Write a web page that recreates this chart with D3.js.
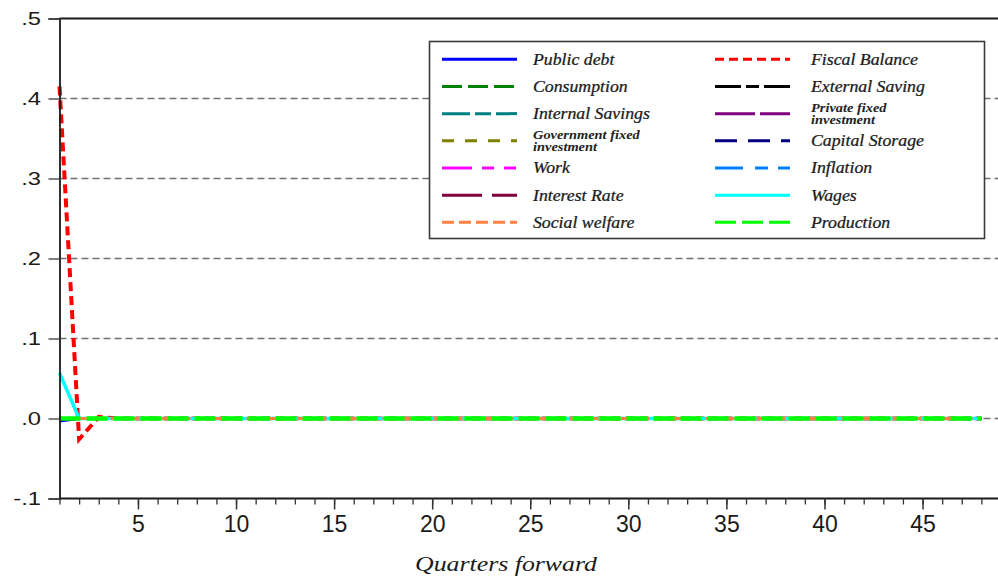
<!DOCTYPE html>
<html>
<head>
<meta charset="utf-8">
<script src="https://cdn.jsdelivr.net/npm/d3@7"></script>
<style>
  html, body { margin: 0; padding: 0; background: #ffffff; }
  svg { display: block; }
</style>
</head>
<body>
<svg id="chart" width="998" height="580"></svg>
<script>
// ---- data: impulse responses over 48 quarters ----
const quarters = [1,2,3,4,5,6,7,8,9,10,11,12,13,14,15,16,17,18,19,20,21,22,23,24,
                  25,26,27,28,29,30,31,32,33,34,35,36,37,38,39,40,41,42,43,44,45,46,47,48];

const publicDebt      = [-0.003,0,0,0,0,0,0,0,0,0,0,0,0,0,0,0,0,0,0,0,0,0,0,0,0,0,0,0,0,0,0,0,0,0,0,0,0,0,0,0,0,0,0,0,0,0,0,0];
const fiscalBalance   = [0.415,-0.026,0.002,0,0,0,0,0,0,0,0,0,0,0,0,0,0,0,0,0,0,0,0,0,0,0,0,0,0,0,0,0,0,0,0,0,0,0,0,0,0,0,0,0,0,0,0,0];
const consumption     = [0,0,0,0,0,0,0,0,0,0,0,0,0,0,0,0,0,0,0,0,0,0,0,0,0,0,0,0,0,0,0,0,0,0,0,0,0,0,0,0,0,0,0,0,0,0,0,0];
const externalSaving  = [0,0,0,0,0,0,0,0,0,0,0,0,0,0,0,0,0,0,0,0,0,0,0,0,0,0,0,0,0,0,0,0,0,0,0,0,0,0,0,0,0,0,0,0,0,0,0,0];
const internalSavings = [0,0,0,0,0,0,0,0,0,0,0,0,0,0,0,0,0,0,0,0,0,0,0,0,0,0,0,0,0,0,0,0,0,0,0,0,0,0,0,0,0,0,0,0,0,0,0,0];
const privateFixedInv = [0,0,0,0,0,0,0,0,0,0,0,0,0,0,0,0,0,0,0,0,0,0,0,0,0,0,0,0,0,0,0,0,0,0,0,0,0,0,0,0,0,0,0,0,0,0,0,0];
const govFixedInv     = [0,0,0,0,0,0,0,0,0,0,0,0,0,0,0,0,0,0,0,0,0,0,0,0,0,0,0,0,0,0,0,0,0,0,0,0,0,0,0,0,0,0,0,0,0,0,0,0];
const capitalStorage  = [0,0,0,0,0,0,0,0,0,0,0,0,0,0,0,0,0,0,0,0,0,0,0,0,0,0,0,0,0,0,0,0,0,0,0,0,0,0,0,0,0,0,0,0,0,0,0,0];
const work            = [0,0,0,0,0,0,0,0,0,0,0,0,0,0,0,0,0,0,0,0,0,0,0,0,0,0,0,0,0,0,0,0,0,0,0,0,0,0,0,0,0,0,0,0,0,0,0,0];
const inflation       = [0,0,0,0,0,0,0,0,0,0,0,0,0,0,0,0,0,0,0,0,0,0,0,0,0,0,0,0,0,0,0,0,0,0,0,0,0,0,0,0,0,0,0,0,0,0,0,0];
const interestRate    = [0,0,0,0,0,0,0,0,0,0,0,0,0,0,0,0,0,0,0,0,0,0,0,0,0,0,0,0,0,0,0,0,0,0,0,0,0,0,0,0,0,0,0,0,0,0,0,0];
const wages           = [0.057,0,0,0,0,0,0,0,0,0,0,0,0,0,0,0,0,0,0,0,0,0,0,0,0,0,0,0,0,0,0,0,0,0,0,0,0,0,0,0,0,0,0,0,0,0,0,0];
const socialWelfare   = [0,0,0,0,0,0,0,0,0,0,0,0,0,0,0,0,0,0,0,0,0,0,0,0,0,0,0,0,0,0,0,0,0,0,0,0,0,0,0,0,0,0,0,0,0,0,0,0];
const production      = [0,0,0,0,0,0,0,0,0,0,0,0,0,0,0,0,0,0,0,0,0,0,0,0,0,0,0,0,0,0,0,0,0,0,0,0,0,0,0,0,0,0,0,0,0,0,0,0];

// legend order, row by row (left column, right column)
const seriesNames = [
  "Public debt", "Fiscal Balance",
  "Consumption", "External Saving",
  "Internal Savings", "Private fixed\ninvestment",
  "Government fixed\ninvestment", "Capital Storage",
  "Work", "Inflation",
  "Interest Rate", "Wages",
  "Social welfare", "Production"
];
const seriesValues = [
  publicDebt, fiscalBalance,
  consumption, externalSaving,
  internalSavings, privateFixedInv,
  govFixedInv, capitalStorage,
  work, inflation,
  interestRate, wages,
  socialWelfare, production
];

const yTickValues = [0.5, 0.4, 0.3, 0.2, 0.1, 0.0, -0.1];
const yTickLabels = [".5", ".4", ".3", ".2", ".1", ".0", "-.1"];
const gridValues  = [0.4, 0.3, 0.2, 0.1, 0.0];
const xTickValues = [5, 10, 15, 20, 25, 30, 35, 40, 45];
const xAxisTitle  = "Quarters forward";

// ---- line styles, same order as the series ----
const seriesStyles = [
  { color: "#0000ff", dash: null,                 width: 3 },
  { color: "#ff0000", dash: "9,5",                width: 4 },
  { color: "#008000", dash: "20,6",               width: 3 },
  { color: "#000000", dash: "26,5,13,5",          width: 3 },
  { color: "#008080", dash: "28,5,16,5",          width: 3 },
  { color: "#800080", dash: "40,5",               width: 3 },
  { color: "#808000", dash: "12,11",              width: 3 },
  { color: "#000080", dash: "22,11",              width: 3 },
  { color: "#ff00ff", dash: "30,10,12,10,12,10",  width: 3 },
  { color: "#0080ff", dash: "28,12,13,10,12,10",  width: 3 },
  { color: "#800040", dash: "40,10,25,10",        width: 3 },
  { color: "#00ffff", dash: null,                 width: 3.5 },
  { color: "#ff8040", dash: "12,5",               width: 3 },
  { color: "#00ff00", dash: "21,6",               width: 4.5 }
];

// ---- layout ----
const svg = d3.select("#chart");
const plot = { left: 59.5, top: 18.5, bottom: 498.5, right: 1001 };

const x = d3.scaleLinear().domain([1, 49]).range([plot.left, plot.right]);
const y = d3.scaleLinear().domain([-0.1, 0.5]).range([plot.bottom, plot.top]);

// dashed horizontal grid
svg.append("g")
  .selectAll("line")
  .data(gridValues)
  .join("line")
    .attr("x1", plot.left).attr("x2", 998)
    .attr("y1", d => y(d)).attr("y2", d => y(d))
    .attr("stroke", "#707070").attr("stroke-width", 1.6)
    .attr("stroke-dasharray", "7,4");

// series lines
const line = d3.line()
  .x((d, i) => x(quarters[i]))
  .y(d => y(d));

svg.append("g")
  .selectAll("path")
  .data(seriesValues)
  .join("path")
    .attr("d", d => line(d))
    .attr("fill", "none")
    .attr("stroke", (d, i) => seriesStyles[i].color)
    .attr("stroke-width", (d, i) => seriesStyles[i].width)
    .attr("stroke-dasharray", (d, i) => seriesStyles[i].dash)
    .attr("stroke-linejoin", "miter");

// frame: top border
svg.append("line")
  .attr("x1", plot.left).attr("x2", 998)
  .attr("y1", plot.top).attr("y2", plot.top)
  .attr("stroke", "#1a1a1a").attr("stroke-width", 1.8);

// y axis
const yAxis = d3.axisLeft(y)
  .tickValues(yTickValues)
  .tickSize(11)
  .tickFormat("");
const gy = svg.append("g")
  .attr("transform", `translate(${plot.left},0)`)
  .call(yAxis);
gy.select(".domain").attr("stroke", "#1a1a1a").attr("stroke-width", 1.8);
gy.selectAll(".tick line").attr("stroke", "#555").attr("stroke-width", 1.5);

svg.append("g")
  .selectAll("text")
  .data(yTickValues)
  .join("text")
    .attr("transform", d => `translate(41,${y(d) + 6.8}) scale(1.25,1)`)
    .attr("text-anchor", "end")
    .attr("font-family", "'Liberation Sans', Arial, sans-serif")
    .attr("font-size", 19)
    .attr("fill", "#1a1a1a")
    .text((d, i) => yTickLabels[i]);

// x axis: minor ticks every quarter, major every five
const xAxisMinor = d3.axisBottom(x)
  .tickValues(quarters)
  .tickSize(6)
  .tickFormat("");
const gxMinor = svg.append("g")
  .attr("transform", `translate(0,${plot.bottom})`)
  .call(xAxisMinor);
gxMinor.select(".domain").attr("stroke", "#1a1a1a").attr("stroke-width", 1.8)
  .attr("d", `M${plot.left},0H998`);
gxMinor.selectAll(".tick line").attr("stroke", "#333").attr("stroke-width", 1.3);

const xAxisMajor = d3.axisBottom(x)
  .tickValues(xTickValues)
  .tickSize(11)
  .tickFormat(d3.format("d"));
const gxMajor = svg.append("g")
  .attr("transform", `translate(0,${plot.bottom})`)
  .call(xAxisMajor);
gxMajor.select(".domain").remove();
gxMajor.selectAll(".tick line").attr("stroke", "#333").attr("stroke-width", 1.5);
gxMajor.selectAll(".tick text")
  .attr("y", 0)
  .attr("dy", 0)
  .attr("transform", "translate(0,33)")
  .attr("font-family", "'Liberation Sans', Arial, sans-serif")
  .attr("font-size", 23)
  .attr("fill", "#1a1a1a");

// axis title
svg.append("text")
  .attr("x", 506).attr("y", 571)
  .attr("text-anchor", "middle")
  .attr("font-family", "'Liberation Serif', 'Times New Roman', serif")
  .attr("font-style", "italic")
  .attr("font-size", 22)
  .attr("textLength", 182)
  .attr("lengthAdjust", "spacingAndGlyphs")
  .attr("fill", "#1a1a1a")
  .text(xAxisTitle);

// ---- legend ----
const legend = svg.append("g");
legend.append("rect")
  .attr("x", 429.5).attr("y", 41.5)
  .attr("width", 555).attr("height", 197)
  .attr("fill", "#ffffff")
  .attr("stroke", "#3a3a3a").attr("stroke-width", 1.6);

const legendRowY = d3.scaleLinear().domain([0, 6]).range([59.3, 222.3]);
const legendCols = [
  { lineX1: 442, lineX2: 517, textX: 533 },
  { lineX1: 715, lineX2: 790, textX: 811 }
];

const items = legend.selectAll("g.item")
  .data(seriesNames)
  .join("g")
    .attr("class", "item")
    .attr("transform", (d, i) => `translate(0,${legendRowY(Math.floor(i / 2))})`);

items.append("line")
  .attr("x1", (d, i) => legendCols[i % 2].lineX1)
  .attr("x2", (d, i) => legendCols[i % 2].lineX2)
  .attr("y1", 0).attr("y2", 0)
  .attr("stroke", (d, i) => seriesStyles[i].color)
  .attr("stroke-width", 3)
  .attr("stroke-dasharray", (d, i) => seriesStyles[i].dash);

items.each(function (d, i) {
  const g = d3.select(this);
  const parts = d.split("\n");
  const tx = legendCols[i % 2].textX;
  if (parts.length === 1) {
    g.append("text")
      .attr("transform", `translate(${tx},5.5) scale(1.11,1)`)
      .attr("font-family", "'Liberation Serif', 'Times New Roman', serif")
      .attr("font-style", "italic")
      .attr("font-size", 16)
      .attr("fill", "#1a1a1a")
      .attr("stroke", "#1a1a1a")
      .attr("stroke-width", 0.25)
      .text(parts[0]);
  } else {
    parts.forEach((p, k) => {
      g.append("text")
        .attr("transform", `translate(${tx},${-2 + k * 12}) scale(1.2,1)`)
        .attr("font-family", "'Liberation Serif', 'Times New Roman', serif")
        .attr("font-style", "italic")
        .attr("font-weight", "bold")
        .attr("font-size", 12)
        .attr("fill", "#222")
        .text(p);
    });
  }
});
</script>
</body>
</html>
